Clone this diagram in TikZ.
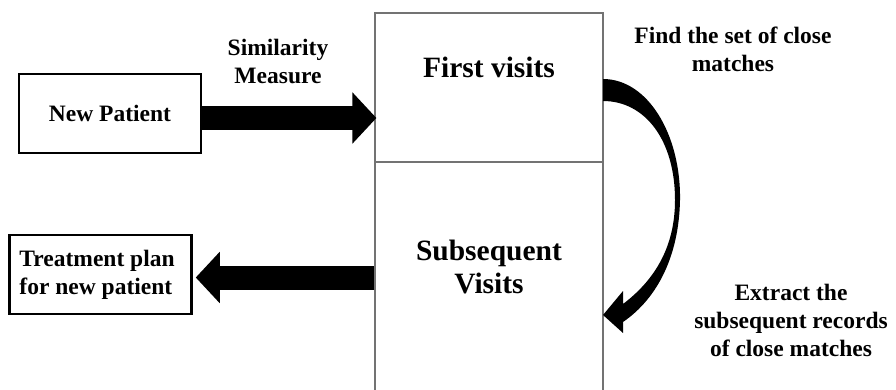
\documentclass[tikz,border=0pt]{standalone}
\usepackage{fontspec}
\setmainfont{Liberation Serif}
\usetikzlibrary{arrows.meta,calc}
\begin{document}
\begin{tikzpicture}[x=1pt,y=-1pt,
  txt/.style={font=\fontsize{23.5}{28}\selectfont\bfseries, align=center, inner sep=0pt},
  title/.style={font=\fontsize{29.5}{33}\selectfont\bfseries, align=center, inner sep=0pt},
  smallbox/.style={draw=black, line width=2.5pt},
  bigbox/.style={draw=black!55, line width=1.2pt, inner sep=0pt, minimum width=228pt},
  blockarrow/.style={line width=24pt, -{Triangle[width=50pt,length=24pt]}}
]
\clip (0,0) rectangle (896,389);

% record store: first visits on top, subsequent visits below (open at the bottom)
\node[bigbox, minimum height=149pt] (fv) at (489,87.5) {};
\node[bigbox, minimum height=231pt] (sv) at (489,277.5) {};
\node[title] (fvt) at (489,67) {First visits};
\node[title] (svt) at (489,266.5) {Subsequent\\Visits};

% input and output boxes
\node[smallbox, txt, minimum width=182pt, minimum height=79pt] (np) at (110,113.5) {New Patient};
\node[smallbox, txt, align=flush left, text width=162pt, inner xsep=10pt, minimum height=79pt] (tp) at (100.5,274.5) {Treatment plan\\for new patient};

% block arrows
\draw[blockarrow] ($(np.east)+(0,4.5)$) coordinate (a1) -- ($(a1 -| fv.west)+(2,0)$);
\draw[blockarrow] (sv.west) -- ($(sv.west -| tp.east)+(3,0)$);

% curved arrow from first visits down to subsequent visits
\fill (603,79) .. controls (648,79) and (681,135) .. (680,200)
  .. controls (679,255) and (658,298) .. (623,322)
  -- (623,333) -- (603,315) -- (623,291) -- (623,304)
  .. controls (652,282) and (675,250) .. (675,200)
  .. controls (675,140) and (645,101) .. (603,101) -- cycle;

% annotations
\node[txt] (sm) at (278,61) {Similarity\\Measure};
\node[txt] (fs) at (733,49) {Find the set of close\\matches};
\node[txt] (ex) at (791,320) {Extract the\\subsequent records\\of close matches};
\end{tikzpicture}
\end{document}
